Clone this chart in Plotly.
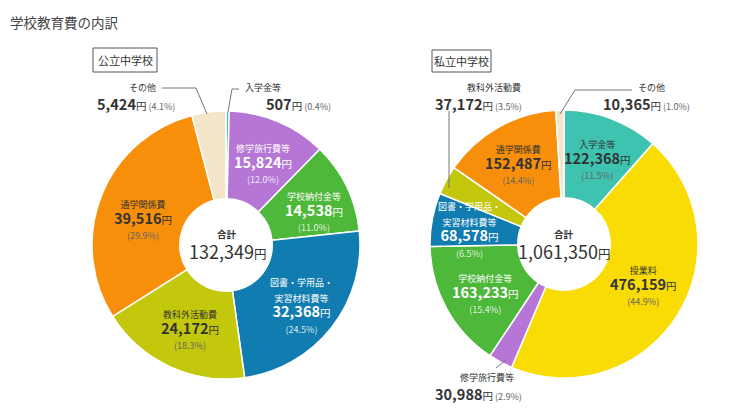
import plotly.graph_objects as go

# ---------------- data ----------------
title_text = "学校教育費の内訳"
public_name = "公立中学校"
private_name = "私立中学校"

public_labels = ["入学金等", "修学旅行費等", "学校納付金等", "図書・学用品・<br>実習材料費等",
                 "教科外活動費", "通学関係費", "その他"]
public_values = [507, 15824, 14538, 32368, 24172, 39516, 5424]

private_labels = ["入学金等", "授業料", "修学旅行費等", "学校納付金等", "図書・学用品・<br>実習材料費等",
                  "教科外活動費", "通学関係費", "その他"]
private_values = [122368, 476159, 30988, 163233, 68578, 37172, 152487, 10365]

# ---------------- styles ----------------
FONT = "Noto Sans CJK JP"
DARK = "#333333"
GRAY = "#666666"
C = {
    "入学金等": "#3ec3b1",
    "授業料": "#fadc05",
    "修学旅行費等": "#b676d6",
    "学校納付金等": "#4db83a",
    "図書・学用品・<br>実習材料費等": "#117cb0",
    "教科外活動費": "#c4c80d",
    "通学関係費": "#f88f0b",
    "その他": "#f3e5c9",
}
NAME_SZ, NUM_SZ, YEN_SZ, PCT_SZ = 9, 14.5, 10.5, 9

W, H = 730, 408


def px(x):
    return x / W


def py(y):
    return 1 - y / H


fig = go.Figure()

fig.add_trace(go.Pie(
    labels=public_labels, values=public_values, sort=False, direction="clockwise",
    rotation=0, hole=0.345, textinfo="none", hoverinfo="label+value+percent",
    marker=dict(colors=[C[l] for l in public_labels], line=dict(color="white", width=1.5)),
    domain=dict(x=[px(92), px(360)], y=[py(379), py(111)]),
    showlegend=False, name=public_name,
))
fig.add_trace(go.Pie(
    labels=private_labels, values=private_values, sort=False, direction="clockwise",
    rotation=0, hole=0.345, textinfo="none", hoverinfo="label+value+percent",
    marker=dict(colors=[C[l] for l in private_labels], line=dict(color="white", width=1.5)),
    domain=dict(x=[px(430), px(698)], y=[py(378), py(110)]),
    showlegend=False, name=private_name,
))

ann = []


def txt(x, y, s, size, color, xanchor="center", yanchor="middle", align="center"):
    ann.append(dict(x=px(x), y=py(y), xref="paper", yref="paper", text=s, showarrow=False,
                    xanchor=xanchor, yanchor=yanchor, align=align, borderpad=0,
                    font=dict(family=FONT, size=size, color=color)))


def money(v, num=NUM_SZ, yen=YEN_SZ, bold=True):
    n = f"<b>{v:,}</b>" if bold else f"{v:,}"
    return f"<span style='font-size:{num}px'>{n}</span><span style='font-size:{yen}px'>円</span>"


def pct(v, tot):
    return f"({v / tot * 100:.1f}%)"


def inside(x, y, name, v, tot, light):
    c1 = "white" if light else DARK
    c2 = "rgba(255,255,255,0.85)" if light else GRAY
    parts = [f"<span style='font-size:{NAME_SZ}px'>{p}</span>" for p in name.split("<br>")]
    lines = parts + [money(v), f"<span style='font-size:{PCT_SZ}px;color:{c2}'>{pct(v, tot)}</span>"]
    txt(x, y, "<br>".join(lines), 12, c1)


def outside(name_x, name_anchor, num_x, y_name, y_num, name, v, tot):
    txt(name_x, y_name, name, NAME_SZ, DARK, xanchor=name_anchor)
    s = money(v) + f"<span style='font-size:{PCT_SZ}px;color:{GRAY}'> {pct(v, tot)}</span>"
    txt(num_x, y_num, s, NUM_SZ, DARK, xanchor="left")


tp = sum(public_values)
tq = sum(private_values)
pv = dict(zip(public_labels, public_values))
qv = dict(zip(private_labels, private_values))

# title & boxes
txt(9, 22, title_text, 13.5, "#444444", xanchor="left")
txt(125, 60, public_name, 11, DARK)
txt(462, 61, private_name, 11, DARK)

# public inside labels (y = centre of label block)
inside(263, 164, "修学旅行費等", pv["修学旅行費等"], tp, True)
inside(314, 212, "学校納付金等", pv["学校納付金等"], tp, True)
inside(301, 306, "図書・学用品・<br>実習材料費等", pv["図書・学用品・<br>実習材料費等"], tp, True)
inside(190, 330, "教科外活動費", pv["教科外活動費"], tp, False)
inside(143, 220, "通学関係費", pv["通学関係費"], tp, False)

# public outside labels
outside(157, "right", 96, 87, 103, "その他", pv["その他"], tp)
outside(244, "left", 265, 87, 103, "入学金等", pv["入学金等"], tp)

# public center
txt(227, 234, "<b>合計</b>", 9.5, DARK)
txt(227, 251, money(tp, 18, 12.5, bold=False), 18, DARK)

# private inside labels
inside(597, 160, "入学金等", qv["入学金等"], tq, False)
inside(518, 165, "通学関係費", qv["通学関係費"], tq, False)
inside(469, 230, "図書・学用品・<br>実習材料費等", qv["図書・学用品・<br>実習材料費等"], tq, True)
inside(485, 294, "学校納付金等", qv["学校納付金等"], tq, True)
inside(643, 286, "授業料", qv["授業料"], tq, False)

# private outside labels
outside(494, "center", 434, 87, 103, "教科外活動費", qv["教科外活動費"], tq)
outside(637, "left", 602, 87, 103, "その他", qv["その他"], tq)
outside(487, "center", 434, 377, 393, "修学旅行費等", qv["修学旅行費等"], tq)

# private center
txt(564, 234, "<b>合計</b>", 9.5, DARK)
txt(564, 251, money(tq, 18, 12.5, bold=False), 18, DARK)

shapes = []


def path(pts, color="#777777"):
    d = "M " + " L ".join(f"{px(x)},{py(y)}" for x, y in pts)
    shapes.append(dict(type="path", path=d, xref="paper", yref="paper",
                       line=dict(color=color, width=1)))


# boxes
shapes.append(dict(type="rect", xref="paper", yref="paper", x0=px(93), x1=px(157), y0=py(72), y1=py(48),
                   line=dict(color="#555555", width=1)))
shapes.append(dict(type="rect", xref="paper", yref="paper", x0=px(432), x1=px(491), y0=py(72), y1=py(50),
                   line=dict(color="#555555", width=1)))

# leader lines
path([(207, 114), (196, 88), (162, 88)])
path([(228, 112), (232, 89), (239, 89)])
path([(560, 114), (575, 90), (632, 90)])
path([(449, 111), (449, 188)])
path([(506, 360), (496, 368)])

fig.update_layout(
    width=W, height=H, margin=dict(l=0, r=0, t=0, b=0),
    paper_bgcolor="white", plot_bgcolor="white",
    annotations=ann, shapes=shapes, font=dict(family=FONT),
)

fig.write_html("out.html", config={"displayModeBar": False},
               post_script="document.body.style.margin='0';")
